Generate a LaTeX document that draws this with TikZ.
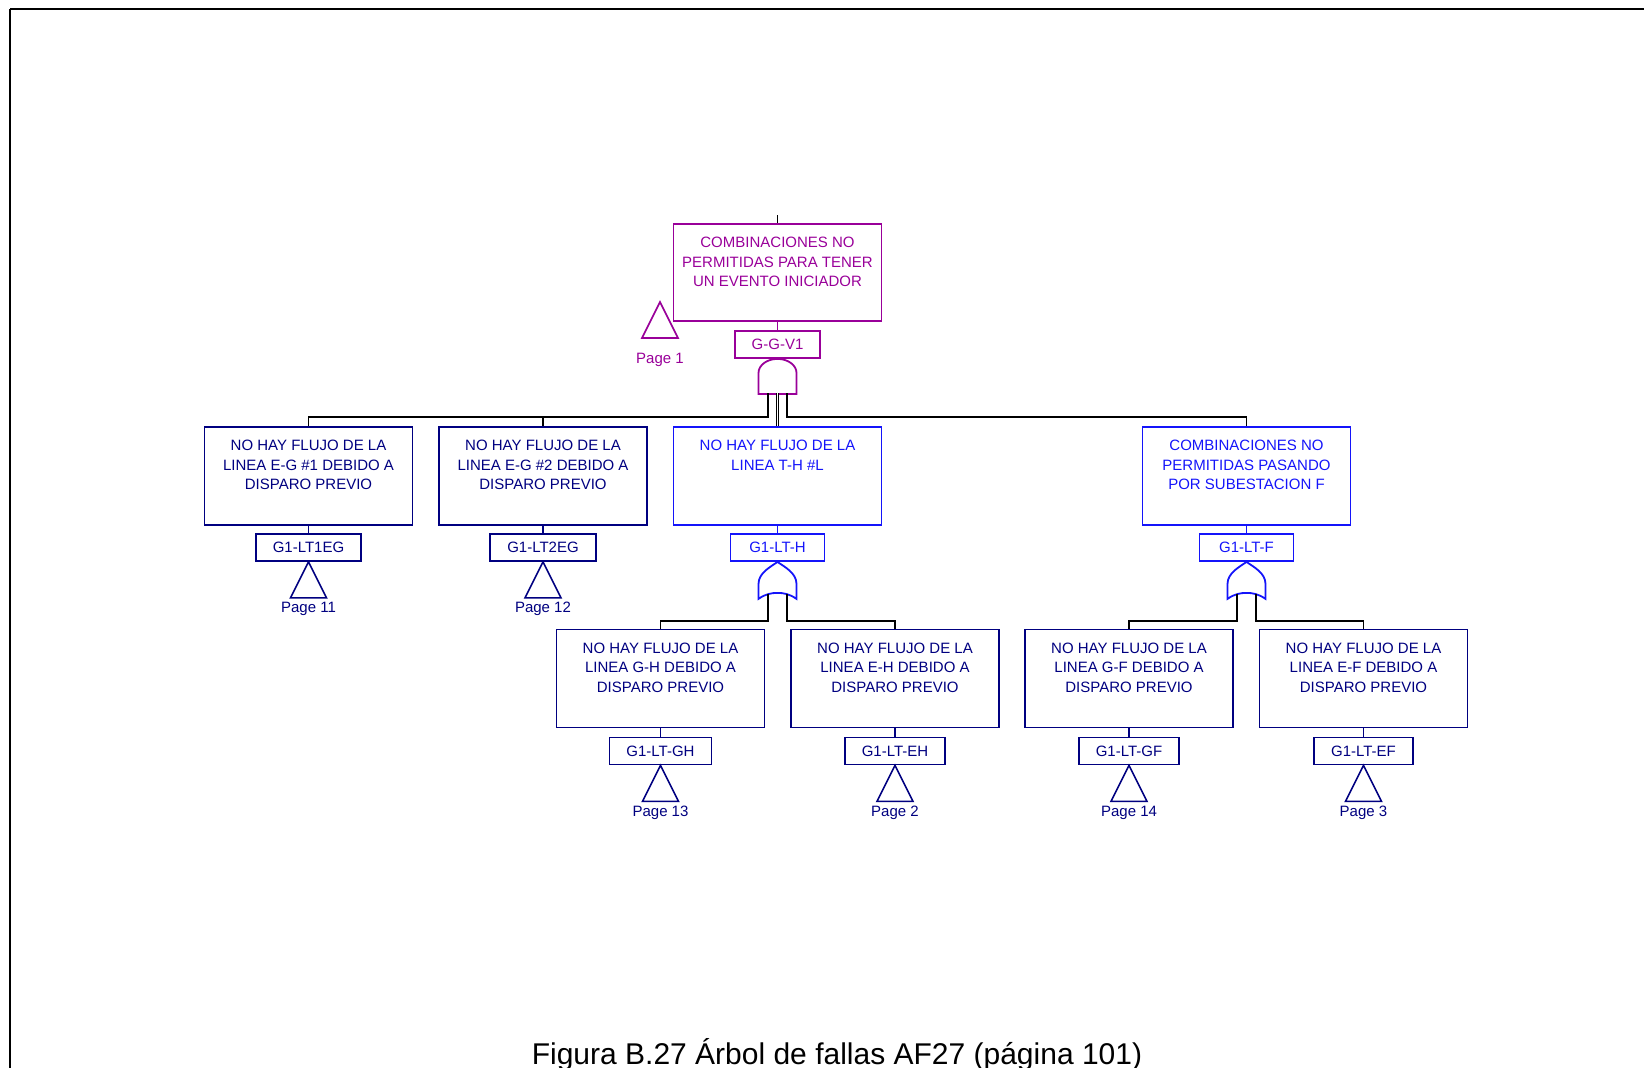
\documentclass[tikz,border=0pt]{standalone}
\usepackage{fontspec}
\setmainfont{Liberation Sans}
\usepackage{xcolor}
\usetikzlibrary{positioning}

\definecolor{morado}{RGB}{153,0,153}
\definecolor{azul}{RGB}{20,20,250}
\definecolor{marino}{RGB}{0,0,128}

\tikzset{
  evento/.style={draw, line width=1.8pt, minimum width=208pt, minimum height=98pt, inner sep=0pt},
  texto/.style={font=\fontsize{15}{19.5}\selectfont, align=center, inner sep=0pt},
  etiqueta/.style={draw, line width=1.8pt, minimum height=27pt, minimum width=94pt, inner xsep=17pt, inner ysep=0pt, font=\fontsize{15}{18}\selectfont},
  conector/.style={line width=1.8pt, black},
  enlace/.style={line width=1.8pt},
  puerta/.style={line width=1.8pt, fill=white},
  transfer/.style={line width=1.6pt, line join=miter},
  pagina/.style={font=\fontsize{15}{18}\selectfont, anchor=base, inner sep=0pt},
}

\begin{document}
\begin{tikzpicture}[x=1pt, y=-1pt]
        \useasboundingbox (0,0) rectangle (1644,1068);

        % marco
        \draw[line width=2.4pt] (1644,9) -- (10,9);
        \draw[line width=2pt] (10,9) -- (10,1068);

        % evento superior
        \coordinate (entrada) at (777.5,215);
        \node[evento, draw=morado, minimum height=97pt] (tope) at (777.5,272.5) {};
        \node[texto, morado, below=14pt of tope.north] (topet) {COMBINACIONES NO\\PERMITIDAS PARA TENER\\UN EVENTO INICIADOR};
        \node[etiqueta, draw=morado, text=morado, minimum width=0pt] (ggv1) at (777.5,344.5) {G-G-V1};
        \draw[conector] (entrada) -- (tope.north);
        \draw[enlace, morado] (tope.south) -- (ggv1.north);

        \draw[transfer, morado] (660,302) -- (678,338) -- (642,338) -- cycle;
        \node[pagina, morado] (pg1) at (660,363.5) {Page 1};

        % puerta Y
        \begin{scope}[shift={(ggv1.south)}]
        \draw[puerta, draw=morado] (-19,35) -- (-19,14) arc[start angle=180, end angle=0, x radius=19pt, y radius=14pt] -- (19,35) -- cycle;
        \end{scope}
        \coordinate (y1) at (768,393);
        \coordinate (y0) at (777.5,393);
        \coordinate (y2) at (787,393);
        \coordinate (busi) at (768,417);
        \coordinate (busd) at (787,417);

        % primer nivel
        \node[evento, draw=marino] (ev1eg) at (308.5,476) {};
        \node[texto, marino, below=14pt of ev1eg.north] (tx1eg) {NO HAY FLUJO DE LA\\LINEA E-G \#1 DEBIDO A\\DISPARO PREVIO};
        \node[etiqueta, draw=marino, text=marino] (lt1eg) at (308.5,547.5) {G1-LT1EG};

        \node[evento, draw=marino] (ev2eg) at (543,476) {};
        \node[texto, marino, below=14pt of ev2eg.north] (tx2eg) {NO HAY FLUJO DE LA\\LINEA E-G \#2 DEBIDO A\\DISPARO PREVIO};
        \node[etiqueta, draw=marino, text=marino] (lt2eg) at (543,547.5) {G1-LT2EG};

        \node[evento, draw=azul] (evth) at (777.5,476) {};
        \node[texto, azul, below=14pt of evth.north] (txth) {NO HAY FLUJO DE LA\\LINEA T-H \#L};
        \node[etiqueta, draw=azul, text=azul] (lth) at (777.5,547.5) {G1-LT-H};

        \node[evento, draw=azul] (evf) at (1246.5,476) {};
        \node[texto, azul, below=14pt of evf.north] (txf) {COMBINACIONES NO\\PERMITIDAS PASANDO\\POR SUBESTACION F};
        \node[etiqueta, draw=azul, text=azul] (ltf) at (1246.5,547.5) {G1-LT-F};

        \draw[conector] (y1) -- (busi) -| (ev1eg.north);
        \draw[conector] (busi) -| (ev2eg.north);
        \draw[line width=0.9pt, double, double distance=1.3pt] (y0) -- (evth.north);
        \draw[conector] (y2) -- (busd) -| (evf.north);

        \draw[enlace, marino] (ev1eg.south) -- (lt1eg.north);
        \draw[enlace, marino] (ev2eg.south) -- (lt2eg.north);
        \draw[enlace, azul] (evth.south) -- (lth.north);
        \draw[enlace, azul] (evf.south) -- (ltf.north);

        \draw[transfer, marino] (lt1eg.south) -- ++(18,36) -- ++(-36,0) -- cycle;
        \node[pagina, marino] (pg11) at (308.5,612) {Page 11};
        \draw[transfer, marino] (lt2eg.south) -- ++(18,36) -- ++(-36,0) -- cycle;
        \node[pagina, marino] (pg12) at (543,612) {Page 12};

        % puertas O
        \begin{scope}[shift={(lth.south)}]
        \draw[puerta, draw=azul] (0,0) .. controls (7,5) and (19,11) .. (19,22) -- (19,37) .. controls (12,32) and (6,31) .. (0,31) .. controls (-6,31) and (-12,32) .. (-19,37) -- (-19,22) .. controls (-19,11) and (-7,5) .. (0,0) -- cycle;
        \end{scope}
        \begin{scope}[shift={(ltf.south)}]
        \draw[puerta, draw=azul] (0,0) .. controls (7,5) and (19,11) .. (19,22) -- (19,37) .. controls (12,32) and (6,31) .. (0,31) .. controls (-6,31) and (-12,32) .. (-19,37) -- (-19,22) .. controls (-19,11) and (-7,5) .. (0,0) -- cycle;
        \end{scope}
        \coordinate (oh1) at (768,594);
        \coordinate (oh2) at (787,594);
        \coordinate (ohi) at (768,621);
        \coordinate (ohd) at (787,621);
        \coordinate (of1) at (1237,594);
        \coordinate (of2) at (1256,594);
        \coordinate (ofi) at (1237,621);
        \coordinate (ofd) at (1256,621);

        % segundo nivel
        \node[evento, draw=marino] (evgh) at (660.5,678.5) {};
        \node[texto, marino, below=14pt of evgh.north] (txgh) {NO HAY FLUJO DE LA\\LINEA G-H DEBIDO A\\DISPARO PREVIO};
        \node[etiqueta, draw=marino, text=marino] (ltgh) at (660.5,751) {G1-LT-GH};

        \node[evento, draw=marino] (eveh) at (895,678.5) {};
        \node[texto, marino, below=14pt of eveh.north] (txeh) {NO HAY FLUJO DE LA\\LINEA E-H DEBIDO A\\DISPARO PREVIO};
        \node[etiqueta, draw=marino, text=marino] (lteh) at (895,751) {G1-LT-EH};

        \node[evento, draw=marino] (evgf) at (1129,678.5) {};
        \node[texto, marino, below=14pt of evgf.north] (txgf) {NO HAY FLUJO DE LA\\LINEA G-F DEBIDO A\\DISPARO PREVIO};
        \node[etiqueta, draw=marino, text=marino] (ltgf) at (1129,751) {G1-LT-GF};

        \node[evento, draw=marino] (evef) at (1363.5,678.5) {};
        \node[texto, marino, below=14pt of evef.north] (txef) {NO HAY FLUJO DE LA\\LINEA E-F DEBIDO A\\DISPARO PREVIO};
        \node[etiqueta, draw=marino, text=marino] (ltef) at (1363.5,751) {G1-LT-EF};

        \draw[conector] (oh1) -- (ohi) -| (evgh.north);
        \draw[conector] (oh2) -- (ohd) -| (eveh.north);
        \draw[conector] (of1) -- (ofi) -| (evgf.north);
        \draw[conector] (of2) -- (ofd) -| (evef.north);

        \draw[enlace, marino] (evgh.south) -- (ltgh.north);
        \draw[enlace, marino] (eveh.south) -- (lteh.north);
        \draw[enlace, marino] (evgf.south) -- (ltgf.north);
        \draw[enlace, marino] (evef.south) -- (ltef.north);

        \draw[transfer, marino] (ltgh.south) -- ++(18,36) -- ++(-36,0) -- cycle;
        \node[pagina, marino] (pg13) at (660.5,816) {Page 13};
        \draw[transfer, marino] (lteh.south) -- ++(18,36) -- ++(-36,0) -- cycle;
        \node[pagina, marino] (pg2) at (895,816) {Page 2};
        \draw[transfer, marino] (ltgf.south) -- ++(18,36) -- ++(-36,0) -- cycle;
        \node[pagina, marino] (pg14) at (1129,816) {Page 14};
        \draw[transfer, marino] (ltef.south) -- ++(18,36) -- ++(-36,0) -- cycle;
        \node[pagina, marino] (pg3) at (1363.5,816) {Page 3};

        % pie
        \node[anchor=base, inner sep=0pt, font=\fontsize{30}{36}\selectfont] (titulo) at (837,1064) {Figura B.27 Árbol de fallas AF27 (página 101)};

\end{tikzpicture}
\end{document}
